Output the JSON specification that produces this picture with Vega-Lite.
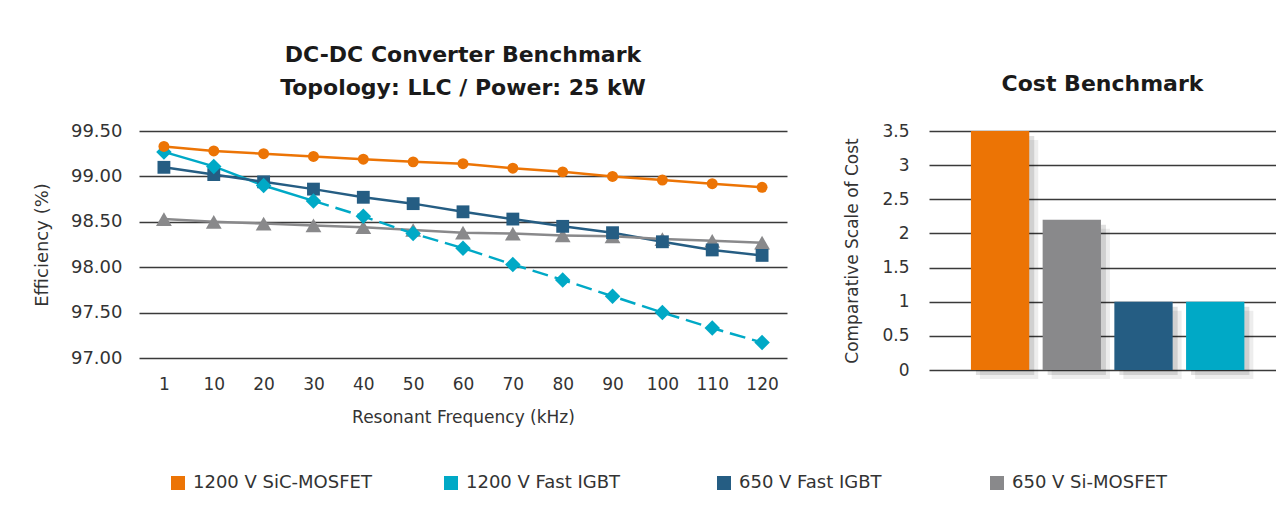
{
  "$schema": "https://vega.github.io/schema/vega-lite/v6.json",
  "background": "white",
  "padding": {"left": 33, "top": 44, "right": 0, "bottom": 30},
  "bounds": "flush",
  "spacing": 142,
  "datasets": {
    "eff": [
      {"device": "1200 V SiC-MOSFET", "freq": 1, "eff": 99.33},
      {"device": "1200 V SiC-MOSFET", "freq": 10, "eff": 99.28},
      {"device": "1200 V SiC-MOSFET", "freq": 20, "eff": 99.25},
      {"device": "1200 V SiC-MOSFET", "freq": 30, "eff": 99.22},
      {"device": "1200 V SiC-MOSFET", "freq": 40, "eff": 99.19},
      {"device": "1200 V SiC-MOSFET", "freq": 50, "eff": 99.16},
      {"device": "1200 V SiC-MOSFET", "freq": 60, "eff": 99.14},
      {"device": "1200 V SiC-MOSFET", "freq": 70, "eff": 99.09},
      {"device": "1200 V SiC-MOSFET", "freq": 80, "eff": 99.05},
      {"device": "1200 V SiC-MOSFET", "freq": 90, "eff": 99.0},
      {"device": "1200 V SiC-MOSFET", "freq": 100, "eff": 98.96},
      {"device": "1200 V SiC-MOSFET", "freq": 110, "eff": 98.92},
      {"device": "1200 V SiC-MOSFET", "freq": 120, "eff": 98.88},
      {"device": "1200 V Fast IGBT", "freq": 1, "eff": 99.27},
      {"device": "1200 V Fast IGBT", "freq": 10, "eff": 99.11},
      {"device": "1200 V Fast IGBT", "freq": 20, "eff": 98.9},
      {"device": "1200 V Fast IGBT", "freq": 30, "eff": 98.73},
      {"device": "1200 V Fast IGBT", "freq": 40, "eff": 98.56},
      {"device": "1200 V Fast IGBT", "freq": 50, "eff": 98.37},
      {"device": "1200 V Fast IGBT", "freq": 60, "eff": 98.21},
      {"device": "1200 V Fast IGBT", "freq": 70, "eff": 98.03},
      {"device": "1200 V Fast IGBT", "freq": 80, "eff": 97.86},
      {"device": "1200 V Fast IGBT", "freq": 90, "eff": 97.68},
      {"device": "1200 V Fast IGBT", "freq": 100, "eff": 97.5},
      {"device": "1200 V Fast IGBT", "freq": 110, "eff": 97.33},
      {"device": "1200 V Fast IGBT", "freq": 120, "eff": 97.17},
      {"device": "650 V Fast IGBT", "freq": 1, "eff": 99.1},
      {"device": "650 V Fast IGBT", "freq": 10, "eff": 99.02},
      {"device": "650 V Fast IGBT", "freq": 20, "eff": 98.94},
      {"device": "650 V Fast IGBT", "freq": 30, "eff": 98.86},
      {"device": "650 V Fast IGBT", "freq": 40, "eff": 98.77},
      {"device": "650 V Fast IGBT", "freq": 50, "eff": 98.7},
      {"device": "650 V Fast IGBT", "freq": 60, "eff": 98.61},
      {"device": "650 V Fast IGBT", "freq": 70, "eff": 98.53},
      {"device": "650 V Fast IGBT", "freq": 80, "eff": 98.45},
      {"device": "650 V Fast IGBT", "freq": 90, "eff": 98.38},
      {"device": "650 V Fast IGBT", "freq": 100, "eff": 98.28},
      {"device": "650 V Fast IGBT", "freq": 110, "eff": 98.19},
      {"device": "650 V Fast IGBT", "freq": 120, "eff": 98.13},
      {"device": "650 V Si-MOSFET", "freq": 1, "eff": 98.53},
      {"device": "650 V Si-MOSFET", "freq": 10, "eff": 98.5},
      {"device": "650 V Si-MOSFET", "freq": 20, "eff": 98.48},
      {"device": "650 V Si-MOSFET", "freq": 30, "eff": 98.46},
      {"device": "650 V Si-MOSFET", "freq": 40, "eff": 98.44},
      {"device": "650 V Si-MOSFET", "freq": 50, "eff": 98.41},
      {"device": "650 V Si-MOSFET", "freq": 60, "eff": 98.38},
      {"device": "650 V Si-MOSFET", "freq": 70, "eff": 98.37},
      {"device": "650 V Si-MOSFET", "freq": 80, "eff": 98.35},
      {"device": "650 V Si-MOSFET", "freq": 90, "eff": 98.34},
      {"device": "650 V Si-MOSFET", "freq": 100, "eff": 98.31},
      {"device": "650 V Si-MOSFET", "freq": 110, "eff": 98.29},
      {"device": "650 V Si-MOSFET", "freq": 120, "eff": 98.27}
    ],
    "cost": [
      {"device": "1200 V SiC-MOSFET", "cost": 3.5},
      {"device": "650 V Si-MOSFET", "cost": 2.2},
      {"device": "650 V Fast IGBT", "cost": 1.0},
      {"device": "1200 V Fast IGBT", "cost": 1.0}
    ]
  },
  "hconcat": [
    {
      "width": 648,
      "height": 227,
      "title": {
        "text": ["DC-DC Converter Benchmark", "Topology: LLC / Power: 25 kW"],
        "fontSize": 22,
        "fontWeight": "bold",
        "lineHeight": 33,
        "offset": 22,
        "anchor": "middle",
        "color": "#1a1a1a",
        "font": "DejaVu Sans"
      },
      "data": {"name": "eff"},
      "encoding": {
        "x": {
          "field": "freq",
          "type": "ordinal",
          "scale": {"type": "point", "padding": 0.5},
          "axis": {
            "title": "Resonant Frequency (kHz)",
            "labelAngle": 0,
            "labelFontSize": 17,
            "labelPadding": 18,
            "titleFontSize": 17,
            "titlePadding": 17,
            "ticks": false,
            "domain": false,
            "grid": false
          }
        },
        "y": {
          "field": "eff",
          "type": "quantitative",
          "scale": {"domain": [97, 99.5], "nice": false, "zero": false},
          "axis": {
            "title": "Efficiency (%)",
            "values": [97, 97.5, 98, 98.5, 99, 99.5],
            "format": ".2f",
            "labelFontSize": 18,
            "labelPadding": 17,
            "titleFontSize": 18,
            "titlePadding": 19,
            "ticks": false,
            "domain": false,
            "grid": true
          }
        },
        "color": {
          "field": "device",
          "type": "nominal",
          "scale": {
            "domain": ["1200 V SiC-MOSFET", "1200 V Fast IGBT", "650 V Fast IGBT", "650 V Si-MOSFET"],
            "range": ["#ec7405", "#00a9c6", "#255d83", "#89898b"]
          }
        }
      },
      "layer": [
        {
          "transform": [{"filter": "datum.device != '1200 V Fast IGBT' || datum.freq <= 30"}],
          "mark": {"type": "line", "strokeWidth": 2.5}
        },
        {
          "transform": [{"filter": "datum.device == '1200 V Fast IGBT' && datum.freq >= 30"}],
          "mark": {"type": "line", "strokeWidth": 2.5, "strokeDash": [16, 7]}
        },
        {
          "transform": [{"filter": "datum.device == '650 V Si-MOSFET'"}],
          "mark": {"type": "point", "filled": true, "opacity": 1, "shape": "triangle-up", "size": 250}
        },
        {
          "transform": [{"filter": "datum.device == '650 V Fast IGBT'"}],
          "mark": {"type": "point", "filled": true, "opacity": 1, "shape": "square", "size": 165}
        },
        {
          "transform": [{"filter": "datum.device == '1200 V Fast IGBT'"}],
          "mark": {"type": "point", "filled": true, "opacity": 1, "shape": "diamond", "size": 240}
        },
        {
          "transform": [{"filter": "datum.device == '1200 V SiC-MOSFET'"}],
          "mark": {"type": "point", "filled": true, "opacity": 1, "shape": "circle", "size": 120}
        }
      ]
    },
    {
      "width": 347,
      "height": 239,
      "title": {
        "text": "Cost Benchmark",
        "fontSize": 22,
        "fontWeight": "bold",
        "offset": 26,
        "anchor": "middle",
        "color": "#1a1a1a",
        "font": "DejaVu Sans"
      },
      "data": {"name": "cost"},
      "encoding": {
        "x": {
          "field": "device",
          "type": "nominal",
          "sort": ["1200 V SiC-MOSFET", "650 V Si-MOSFET", "650 V Fast IGBT", "1200 V Fast IGBT"],
          "scale": {"paddingInner": 0.187, "paddingOuter": 0.513, "align": 0.57},
          "axis": null
        },
        "y": {
          "field": "cost",
          "type": "quantitative",
          "scale": {"domain": [0, 3.5], "nice": false},
          "axis": {
            "title": "Comparative Scale of Cost",
            "values": [0, 0.5, 1, 1.5, 2, 2.5, 3, 3.5],
            "format": "~g",
            "labelFontSize": 17,
            "labelPadding": 20,
            "titleFontSize": 17,
            "titlePadding": 20,
            "ticks": false,
            "domain": false,
            "grid": true
          }
        }
      },
      "layer": [
        {
          "mark": {"type": "bar", "color": "#000000", "opacity": 0.07, "xOffset": 9, "yOffset": 9}
        },
        {
          "mark": {"type": "bar", "color": "#000000", "opacity": 0.12, "xOffset": 5, "yOffset": 5}
        },
        {
          "mark": {"type": "bar"},
          "encoding": {
            "color": {
              "field": "device",
              "type": "nominal",
              "scale": {
                "domain": ["1200 V SiC-MOSFET", "1200 V Fast IGBT", "650 V Fast IGBT", "650 V Si-MOSFET"],
                "range": ["#ec7405", "#00a9c6", "#255d83", "#89898b"]
              },
              "legend": {
                "title": null,
                "orient": "none",
                "legendX": 30,
                "legendY": 343,
                "direction": "horizontal",
                "columns": 4,
                "gridAlign": "all",
                "columnPadding": 70,
                "symbolType": "square",
                "symbolSize": 196,
                "symbolStrokeWidth": 0,
                "labelFontSize": 18,
                "labelOffset": 6,
                "labelLimit": 400,
                "labelColor": "#333333",
                "labelFont": "DejaVu Sans",
                "encode": {
                  "symbols": {
                    "update": {
                      "fill": {"scale": "color", "field": "value"},
                      "shape": {"value": "square"},
                      "size": {"value": 196},
                      "opacity": {"value": 1}
                    }
                  }
                }
              }
            }
          }
        }
      ]
    }
  ],
  "resolve": {"scale": {"color": "shared"}},
  "config": {
    "view": {"stroke": null},
    "font": "DejaVu Sans",
    "axis": {
      "gridColor": "#3a3a3a",
      "gridWidth": 1.3,
      "gridOpacity": 1,
      "labelColor": "#333333",
      "titleColor": "#333333",
      "titleFontWeight": "normal",
      "labelFont": "DejaVu Sans",
      "titleFont": "DejaVu Sans"
    }
  }
}
